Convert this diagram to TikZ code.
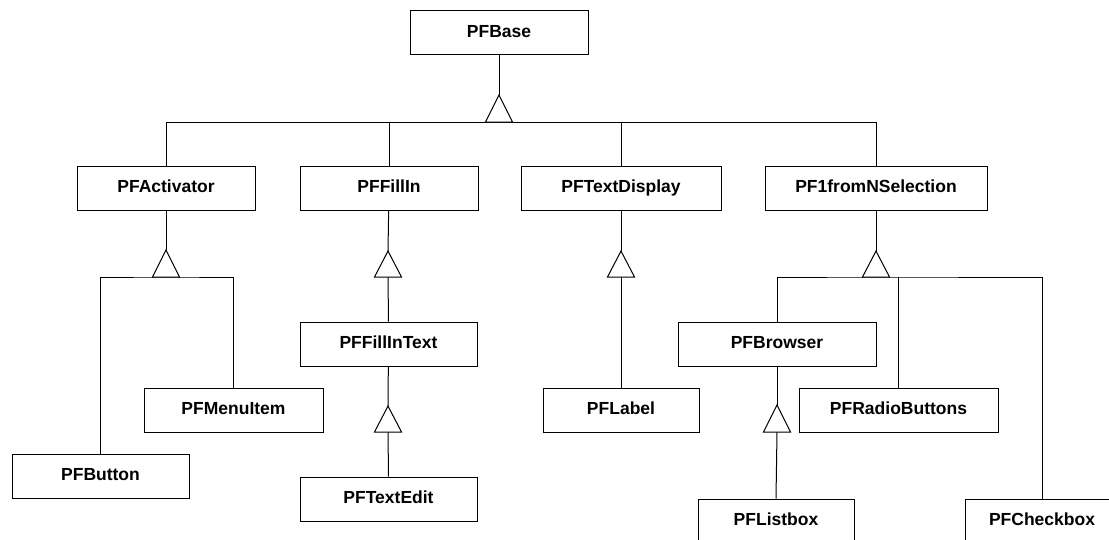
\documentclass[tikz,border=0pt]{standalone}
\usepackage{fontspec}
\setmainfont{Liberation Sans}
\begin{document}
\begin{tikzpicture}[x=1pt,y=-1pt,line width=1pt,
  cls/.style={draw, rectangle, minimum height=44pt, inner sep=0pt,
    text height=12.5pt, text depth=3.5pt,
    font=\bfseries\fontsize{17.5}{20}\selectfont},
  gen/.style={draw, fill=white, line join=miter}]
\useasboundingbox (0,0) rectangle (1109,539);
\clip (0,0) rectangle (1109,539);

% classes
\node[cls, minimum width=178pt] (base)    at (499,32.5) {PFBase};
\node[cls, minimum width=178pt] (act)     at (166,188)  {PFActivator};
\node[cls, minimum width=178pt] (fill)    at (389,188)  {PFFillIn};
\node[cls, minimum width=200pt] (disp)    at (621,188)  {PFTextDisplay};
\node[cls, minimum width=222pt] (sel)     at (876,188)  {PF1fromNSelection};
\node[cls, minimum width=179pt] (menu)    at (233.5,410) {PFMenuItem};
\node[cls, minimum width=177pt] (btn)     at (100.5,476) {PFButton};
\node[cls, minimum width=177pt] (filltxt) at (388.5,344) {PFFillInText};
\node[cls, minimum width=177pt] (edit)    at (388.5,499) {PFTextEdit};
\node[cls, minimum width=156pt] (label)   at (621,410)  {PFLabel};
\node[cls, minimum width=198pt] (browser) at (777,344)  {PFBrowser};
\node[cls, minimum width=199pt] (radio)   at (898.5,410) {PFRadioButtons};
\node[cls, minimum width=156pt] (list)    at (776,521)  {PFListbox};
\node[cls, minimum width=154pt] (check)   at (1042,521) {PFCheckbox};

% generalisation points: apex and base centre of each triangle
\coordinate (bTop) at (499,95);  \coordinate (bBot) at (499,122);
\coordinate (aTop) at (166,250); \coordinate (aBot) at (166,277);
\coordinate (fTop) at (388,251); \coordinate (fBot) at (388,277);
\coordinate (dTop) at (621,251); \coordinate (dBot) at (621,277);
\coordinate (sTop) at (876,251); \coordinate (sBot) at (876,277);
\coordinate (tTop) at (388,406); \coordinate (tBot) at (388,432);
\coordinate (wTop) at (777,405); \coordinate (wBot) at (777,432);

% PFBase hierarchy
\draw (base) -- (bTop);
\draw (act.north) -- (act.north |- bBot) -- (sel.north |- bBot) -- (sel.north);
\draw (fill.north) -- (fill.north |- bBot);
\draw (disp.north) -- (disp.north |- bBot);

% PFActivator
\draw (act) -- (aTop);
\draw (btn.north) |- (aBot) -| (menu.north);

% PFFillIn
\draw (fill) -- (fTop);
\draw (fBot) -- (filltxt.north);
\draw (filltxt) -- (tTop);
\draw (tBot) -- (edit.north);

% PFTextDisplay
\draw (disp) -- (dTop);
\draw (dBot) -- (label.north);

% PF1fromNSelection
\draw (sel) -- (sTop);
\draw (browser.north) |- (sBot) -| (check.north);
\draw (radio.north) -- (radio.north |- sBot);
\draw (browser) -- (wTop);
\draw (wBot) -- (list.north);

% hollow triangles
\foreach \t/\b in {bTop/bBot,aTop/aBot,fTop/fBot,dTop/dBot,sTop/sBot,tTop/tBot,wTop/wBot}
  \draw[gen] (\t) -- ([xshift=-13.5pt]\b) -- ([xshift=13.5pt]\b) -- cycle;
\end{tikzpicture}
\end{document}
